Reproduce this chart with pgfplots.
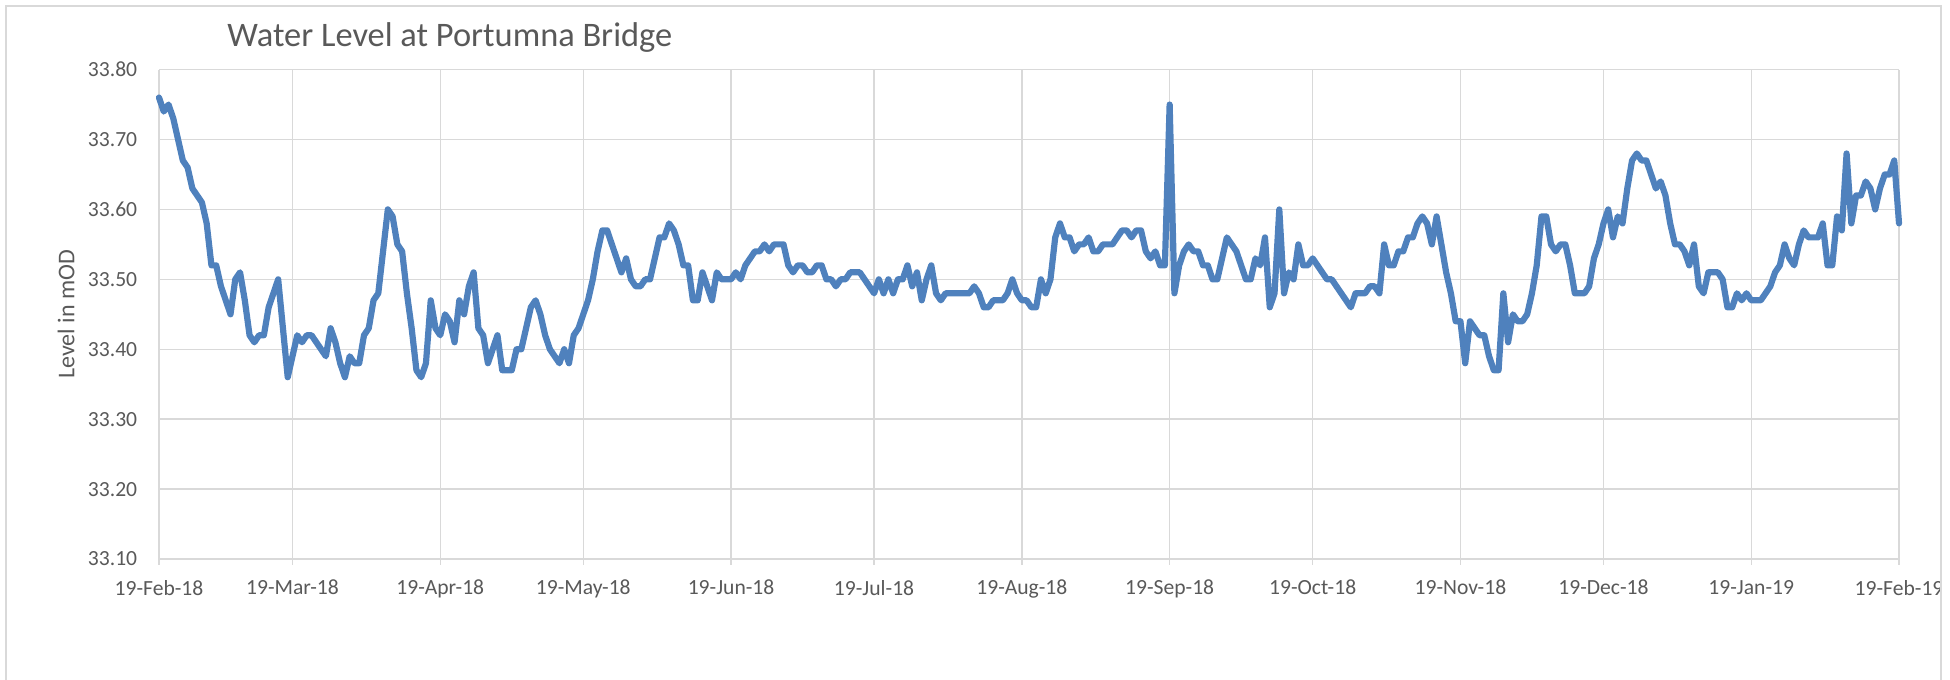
\documentclass[border=0pt]{standalone}
\usepackage{pgfplots}
\pgfplotsset{compat=1.18}
\usepackage{pgfplotstable}
\usepackage{fontspec}
\setmainfont{Carlito}
\definecolor{linec}{RGB}{79,129,189}
\definecolor{gridc}{RGB}{217,217,217}
\definecolor{textc}{RGB}{89,89,89}
\pgfplotstableread[row sep=\\]{
d v\\
0 33.76\\ 1 33.74\\ 2 33.75\\ 3 33.73\\ 4 33.70\\ 5 33.67\\ 6 33.66\\ 7 33.63\\ 8 33.62\\ 9 33.61\\
10 33.58\\ 11 33.52\\ 12 33.52\\ 13 33.49\\ 14 33.47\\ 15 33.45\\ 16 33.50\\ 17 33.51\\ 18 33.47\\ 19 33.42\\
20 33.41\\ 21 33.42\\ 22 33.42\\ 23 33.46\\ 24 33.48\\ 25 33.50\\ 26 33.43\\ 27 33.36\\ 28 33.39\\ 29 33.42\\
30 33.41\\ 31 33.42\\ 32 33.42\\ 33 33.41\\ 34 33.40\\ 35 33.39\\ 36 33.43\\ 37 33.41\\ 38 33.38\\ 39 33.36\\
40 33.39\\ 41 33.38\\ 42 33.38\\ 43 33.42\\ 44 33.43\\ 45 33.47\\ 46 33.48\\ 47 33.54\\ 48 33.60\\ 49 33.59\\
50 33.55\\ 51 33.54\\ 52 33.48\\ 53 33.43\\ 54 33.37\\ 55 33.36\\ 56 33.38\\ 57 33.47\\ 58 33.43\\ 59 33.42\\
60 33.45\\ 61 33.44\\ 62 33.41\\ 63 33.47\\ 64 33.45\\ 65 33.49\\ 66 33.51\\ 67 33.43\\ 68 33.42\\ 69 33.38\\
70 33.40\\ 71 33.42\\ 72 33.37\\ 73 33.37\\ 74 33.37\\ 75 33.40\\ 76 33.40\\ 77 33.43\\ 78 33.46\\ 79 33.47\\
80 33.45\\ 81 33.42\\ 82 33.40\\ 83 33.39\\ 84 33.38\\ 85 33.40\\ 86 33.38\\ 87 33.42\\ 88 33.43\\ 89 33.45\\
90 33.47\\ 91 33.50\\ 92 33.54\\ 93 33.57\\ 94 33.57\\ 95 33.55\\ 96 33.53\\ 97 33.51\\ 98 33.53\\ 99 33.50\\
100 33.49\\ 101 33.49\\ 102 33.50\\ 103 33.50\\ 104 33.53\\ 105 33.56\\ 106 33.56\\ 107 33.58\\ 108 33.57\\ 109 33.55\\
110 33.52\\ 111 33.52\\ 112 33.47\\ 113 33.47\\ 114 33.51\\ 115 33.49\\ 116 33.47\\ 117 33.51\\ 118 33.50\\ 119 33.50\\
120 33.50\\ 121 33.51\\ 122 33.50\\ 123 33.52\\ 124 33.53\\ 125 33.54\\ 126 33.54\\ 127 33.55\\ 128 33.54\\ 129 33.55\\
130 33.55\\ 131 33.55\\ 132 33.52\\ 133 33.51\\ 134 33.52\\ 135 33.52\\ 136 33.51\\ 137 33.51\\ 138 33.52\\ 139 33.52\\
140 33.50\\ 141 33.50\\ 142 33.49\\ 143 33.50\\ 144 33.50\\ 145 33.51\\ 146 33.51\\ 147 33.51\\ 148 33.50\\ 149 33.49\\
150 33.48\\ 151 33.50\\ 152 33.48\\ 153 33.50\\ 154 33.48\\ 155 33.50\\ 156 33.50\\ 157 33.52\\ 158 33.49\\ 159 33.51\\
160 33.47\\ 161 33.50\\ 162 33.52\\ 163 33.48\\ 164 33.47\\ 165 33.48\\ 166 33.48\\ 167 33.48\\ 168 33.48\\ 169 33.48\\
170 33.48\\ 171 33.49\\ 172 33.48\\ 173 33.46\\ 174 33.46\\ 175 33.47\\ 176 33.47\\ 177 33.47\\ 178 33.48\\ 179 33.50\\
180 33.48\\ 181 33.47\\ 182 33.47\\ 183 33.46\\ 184 33.46\\ 185 33.50\\ 186 33.48\\ 187 33.50\\ 188 33.56\\ 189 33.58\\
190 33.56\\ 191 33.56\\ 192 33.54\\ 193 33.55\\ 194 33.55\\ 195 33.56\\ 196 33.54\\ 197 33.54\\ 198 33.55\\ 199 33.55\\
200 33.55\\ 201 33.56\\ 202 33.57\\ 203 33.57\\ 204 33.56\\ 205 33.57\\ 206 33.57\\ 207 33.54\\ 208 33.53\\ 209 33.54\\
210 33.52\\ 211 33.52\\ 212 33.75\\ 213 33.48\\ 214 33.52\\ 215 33.54\\ 216 33.55\\ 217 33.54\\ 218 33.54\\ 219 33.52\\
220 33.52\\ 221 33.50\\ 222 33.50\\ 223 33.53\\ 224 33.56\\ 225 33.55\\ 226 33.54\\ 227 33.52\\ 228 33.50\\ 229 33.50\\
230 33.53\\ 231 33.52\\ 232 33.56\\ 233 33.46\\ 234 33.48\\ 235 33.60\\ 236 33.48\\ 237 33.51\\ 238 33.50\\ 239 33.55\\
240 33.52\\ 241 33.52\\ 242 33.53\\ 243 33.52\\ 244 33.51\\ 245 33.50\\ 246 33.50\\ 247 33.49\\ 248 33.48\\ 249 33.47\\
250 33.46\\ 251 33.48\\ 252 33.48\\ 253 33.48\\ 254 33.49\\ 255 33.49\\ 256 33.48\\ 257 33.55\\ 258 33.52\\ 259 33.52\\
260 33.54\\ 261 33.54\\ 262 33.56\\ 263 33.56\\ 264 33.58\\ 265 33.59\\ 266 33.58\\ 267 33.55\\ 268 33.59\\ 269 33.55\\
270 33.51\\ 271 33.48\\ 272 33.44\\ 273 33.44\\ 274 33.38\\ 275 33.44\\ 276 33.43\\ 277 33.42\\ 278 33.42\\ 279 33.39\\
280 33.37\\ 281 33.37\\ 282 33.48\\ 283 33.41\\ 284 33.45\\ 285 33.44\\ 286 33.44\\ 287 33.45\\ 288 33.48\\ 289 33.52\\
290 33.59\\ 291 33.59\\ 292 33.55\\ 293 33.54\\ 294 33.55\\ 295 33.55\\ 296 33.52\\ 297 33.48\\ 298 33.48\\ 299 33.48\\
300 33.49\\ 301 33.53\\ 302 33.55\\ 303 33.58\\ 304 33.60\\ 305 33.56\\ 306 33.59\\ 307 33.58\\ 308 33.63\\ 309 33.67\\
310 33.68\\ 311 33.67\\ 312 33.67\\ 313 33.65\\ 314 33.63\\ 315 33.64\\ 316 33.62\\ 317 33.58\\ 318 33.55\\ 319 33.55\\
320 33.54\\ 321 33.52\\ 322 33.55\\ 323 33.49\\ 324 33.48\\ 325 33.51\\ 326 33.51\\ 327 33.51\\ 328 33.50\\ 329 33.46\\
330 33.46\\ 331 33.48\\ 332 33.47\\ 333 33.48\\ 334 33.47\\ 335 33.47\\ 336 33.47\\ 337 33.48\\ 338 33.49\\ 339 33.51\\
340 33.52\\ 341 33.55\\ 342 33.53\\ 343 33.52\\ 344 33.55\\ 345 33.57\\ 346 33.56\\ 347 33.56\\ 348 33.56\\ 349 33.58\\
350 33.52\\ 351 33.52\\ 352 33.59\\ 353 33.57\\ 354 33.68\\ 355 33.58\\ 356 33.62\\ 357 33.62\\ 358 33.64\\ 359 33.63\\
360 33.60\\ 361 33.63\\ 362 33.65\\ 363 33.65\\ 364 33.67\\ 365 33.58\\
}\level
\begin{document}
\begin{tikzpicture}
\useasboundingbox (0,0) rectangle (975bp,340bp);
\begin{scope}
\clip (0,0) rectangle (969.5bp,340bp);
\begin{axis}[
  at={(79.5bp,60.5bp)}, anchor=south west,
  scale only axis, width=870bp, height=244.7bp,
  xmin=0, xmax=365, ymin=33.1, ymax=33.8,
  clip=false,
  xtick={0,28,59,89,120,150,181,212,242,273,303,334,365},
  xticklabels={19-Feb-18,19-Mar-18,19-Apr-18,19-May-18,19-Jun-18,19-Jul-18,19-Aug-18,19-Sep-18,19-Oct-18,19-Nov-18,19-Dec-18,19-Jan-19,19-Feb-19},
  ytick={33.1,33.2,33.3,33.4,33.5,33.6,33.7,33.8},
  /pgf/number format/fixed, /pgf/number format/fixed zerofill,
  /pgf/number format/precision=2, /pgf/number format/assume math mode=true,
  scaled y ticks=false,
  grid=major, major grid style={draw=gridc, line width=0.75bp},
  axis lines*=left,
  y axis line style={draw=none},
  x axis line style={draw=gridc, line width=0.75bp},
  tick align=outside, major tick length=3bp,
  xtick style={draw=gridc, line width=0.75bp},
  ytick style={draw=none},
  tick label style={font=\fontsize{10.8bp}{13bp}\selectfont, text=textc},
  xticklabel style={yshift=-4bp},
  yticklabel style={xshift=-4.4bp},
  ylabel={Level in mOD},
  every axis y label/.style={at={(axis description cs:-0.0534,0.5)}, rotate=90, anchor=center, font=\fontsize{12bp}{14bp}\selectfont, text=textc},
  title={Water Level at Portumna Bridge},
  every axis title/.style={at={(axis description cs:0.0391,1.0468)}, anchor=base west, inner sep=0pt, font=\fontsize{17.2bp}{20bp}\selectfont, text=textc},
]
\addplot[linec, line width=3.1bp, line join=round, line cap=round] table[x=d, y=v] {\level};
\end{axis}
\end{scope}
\draw[gridc, line width=0.75bp] (3bp,-10bp) -- (3bp,337bp) -- (970.5bp,337bp) -- (970.5bp,-10bp);
\end{tikzpicture}
\end{document}
